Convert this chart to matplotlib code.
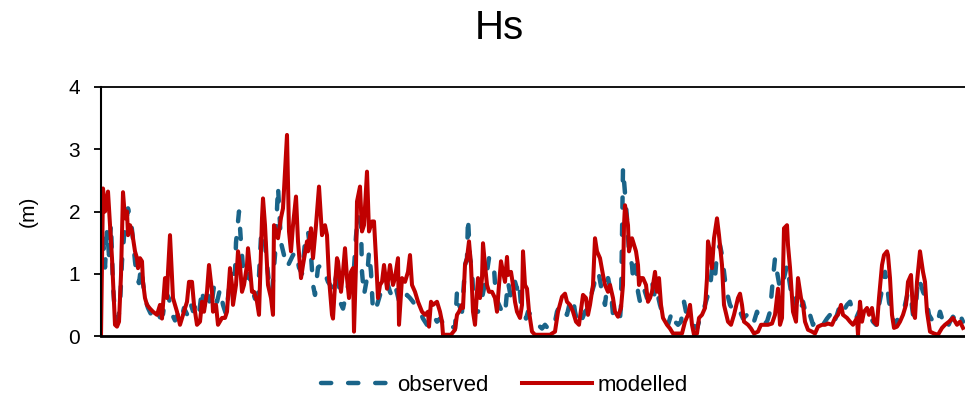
import matplotlib.pyplot as plt

plt.rcParams['font.family'] = ['Liberation Sans', 'DejaVu Sans']

# hourly time step and significant wave height (m)
t_model = [0, 2, 4, 7, 11, 14, 16, 18, 20, 22, 24, 26, 27, 29, 31, 32, 34, 36, 37, 39,
           41, 42, 44, 46, 49, 52, 56, 59, 61, 64, 66, 67, 69, 71, 72, 76, 79, 82, 86, 88,
           91, 93, 96, 99, 101, 103, 106, 108, 111, 112, 115, 117, 121, 124, 126, 129, 131, 132, 135, 137,
           139, 141, 143, 146, 147, 149, 151, 153, 156, 158, 161, 162, 164, 166, 167, 170, 172, 173, 177, 180,
           182, 186, 188, 190, 192, 195, 197, 200, 202, 206, 207, 210, 212, 215, 218, 221, 224, 226, 228, 231,
           232, 234, 236, 237, 240, 242, 244, 246, 248, 250, 252, 253, 255, 256, 259, 261, 263, 266, 268, 271,
           273, 275, 277, 279, 281, 283, 286, 289, 292, 294, 297, 298, 301, 304, 307, 309, 311, 314, 317, 321,
           324, 327, 328, 330, 332, 336, 339, 341, 342, 346, 350, 354, 356, 358, 361, 362, 364, 366, 368, 370,
           372, 374, 376, 377, 379, 381, 382, 384, 386, 388, 391, 394, 396, 398, 400, 402, 404, 406, 407, 410,
           412, 414, 416, 419, 421, 422, 424, 426, 428, 431, 434, 439, 444, 449, 454, 457, 461, 464, 466, 469,
           472, 475, 478, 481, 482, 485, 487, 489, 492, 494, 496, 499, 502, 504, 507, 509, 512, 514, 517, 520,
           522, 523, 524, 527, 528, 531, 532, 535, 537, 538, 540, 542, 545, 547, 549, 551, 554, 556, 558, 560,
           562, 566, 569, 572, 576, 581, 584, 587, 589, 591, 593, 596, 598, 601, 604, 606, 607, 609, 611, 613,
           616, 618, 621, 623, 627, 630, 633, 637, 639, 641, 643, 647, 650, 653, 657, 660, 664, 667, 671, 674,
           677, 679, 681, 683, 686, 687, 689, 692, 695, 697, 700, 702, 704, 707, 711, 714, 717, 721, 724, 727,
           731, 734, 737, 740, 742, 746, 749, 752, 756, 757, 759, 761, 763, 766, 768, 771, 773, 776, 778, 781,
           783, 786, 787, 789, 791, 793, 796, 799, 802, 805, 807, 810, 812, 814, 816, 819, 822, 824, 826, 829,
           833, 837, 841, 844, 848, 852, 856, 859, 862]
hs_model = [0.0, 2.37, 2.0, 2.32, 1.25, 0.18, 0.15, 0.23, 0.98, 2.31, 1.89, 2.0, 1.62, 1.78, 1.68, 1.57, 1.36, 1.25, 1.09, 1.25,
            1.2, 0.87, 0.61, 0.5, 0.44, 0.39, 0.34, 0.5, 0.28, 0.93, 0.61, 1.03, 1.62, 0.93, 0.61, 0.39, 0.18, 0.34, 0.55, 0.87,
            0.87, 0.5, 0.18, 0.23, 0.55, 0.39, 0.71, 1.14, 0.71, 0.39, 0.5, 0.18, 0.29, 0.29, 0.39, 1.09, 0.82, 0.5, 0.82, 1.36,
            1.14, 0.71, 0.82, 1.14, 1.41, 1.09, 0.71, 0.71, 0.55, 0.34, 1.89, 2.21, 1.78, 1.14, 0.82, 0.61, 0.34, 1.78, 1.57, 1.9,
            2.05, 3.23, 1.68, 1.36, 1.78, 2.24, 1.52, 0.93, 1.14, 1.52, 1.36, 1.73, 1.25, 1.78, 2.4, 1.62, 1.78, 1.62, 0.93, 0.34,
            0.28, 0.82, 1.25, 1.2, 0.71, 1.03, 1.41, 0.93, 0.61, 1.03, 1.09, 0.07, 1.14, 2.16, 2.4, 1.68, 1.78, 2.64, 1.68, 1.84,
            1.84, 1.25, 0.61, 0.82, 0.87, 1.14, 0.76, 1.14, 0.82, 0.93, 1.25, 0.18, 0.93, 0.87, 1.03, 1.3, 0.82, 0.71, 0.55, 0.39,
            0.34, 0.39, 0.15, 0.55, 0.5, 0.55, 0.39, 0.23, 0.02, 0.02, 0.02, 0.1, 0.34, 0.39, 0.5, 0.45, 1.14, 1.25, 1.52, 1.14,
            0.39, 0.18, 0.71, 0.93, 0.61, 0.93, 1.49, 1.14, 0.82, 0.71, 0.71, 0.61, 0.39, 0.82, 1.2, 1.03, 0.87, 1.27, 0.98, 1.03,
            0.82, 0.55, 0.39, 0.29, 0.5, 1.36, 0.82, 0.76, 0.39, 0.07, 0.02, 0.02, 0.02, 0.02, 0.07, 0.39, 0.63, 0.68, 0.55, 0.5,
            0.39, 0.23, 0.18, 0.55, 0.66, 0.61, 0.34, 0.5, 0.82, 1.57, 1.36, 1.25, 0.98, 0.82, 0.71, 0.82, 0.61, 0.39, 0.31, 0.45,
            0.82, 1.78, 2.1, 1.78, 1.36, 1.57, 1.52, 1.36, 1.14, 0.82, 0.93, 0.93, 0.82, 0.55, 0.61, 0.71, 1.03, 0.71, 0.93, 0.5,
            0.29, 0.18, 0.12, 0.04, 0.04, 0.04, 0.23, 0.34, 0.5, 0.18, 0.02, 0.04, 0.29, 0.34, 0.45, 0.93, 1.52, 1.36, 1.09, 1.57,
            1.89, 1.62, 1.14, 0.5, 0.23, 0.18, 0.34, 0.61, 0.68, 0.5, 0.23, 0.18, 0.12, 0.04, 0.07, 0.18, 0.18, 0.18, 0.2, 0.34,
            0.76, 0.18, 0.29, 1.73, 1.78, 1.46, 1.1, 0.39, 0.23, 0.93, 0.61, 0.5, 0.23, 0.1, 0.07, 0.04, 0.15, 0.18, 0.18, 0.2,
            0.18, 0.29, 0.34, 0.5, 0.34, 0.29, 0.23, 0.18, 0.29, 0.02, 0.55, 0.23, 0.39, 0.45, 0.34, 0.45, 0.23, 0.18, 0.61, 1.14,
            1.3, 1.36, 1.3, 0.93, 0.34, 0.13, 0.15, 0.23, 0.34, 0.5, 0.87, 0.98, 0.39, 0.29, 0.87, 1.36, 1.03, 0.87, 0.39, 0.07,
            0.04, 0.02, 0.13, 0.18, 0.23, 0.29, 0.18, 0.23, 0.13]

t_obs = [0, 2, 4, 6, 8, 10, 12, 14, 17, 19, 21, 23, 25, 27, 30, 32, 34, 36, 38, 40,
         42, 44, 47, 50, 53, 56, 59, 62, 65, 68, 71, 74, 77, 80, 83, 86, 89, 92, 95, 98,
         101, 104, 107, 110, 113, 116, 119, 122, 125, 128, 131, 134, 135, 138, 140, 142, 145, 148, 151, 154,
         157, 160, 162, 165, 168, 171, 174, 177, 180, 183, 186, 189, 192, 195, 198, 201, 204, 207, 210, 212,
         214, 217, 220, 223, 227, 230, 232, 235, 237, 239, 242, 245, 248, 250, 253, 255, 257, 260, 261, 263,
         266, 268, 270, 272, 275, 279, 282, 286, 289, 292, 295, 299, 302, 306, 309, 312, 316, 319, 322, 326,
         329, 332, 336, 339, 343, 346, 349, 354, 356, 358, 361, 363, 364, 366, 367, 369, 371, 373, 377, 381,
         385, 388, 390, 393, 395, 398, 401, 404, 406, 407, 410, 412, 414, 416, 418, 420, 422, 425, 427, 430,
         434, 437, 441, 444, 447, 450, 454, 456, 459, 462, 466, 469, 472, 474, 477, 480, 484, 487, 491, 493,
         495, 498, 501, 504, 507, 510, 512, 515, 519, 520, 522, 524, 526, 528, 531, 532, 535, 537, 539, 541,
         543, 546, 549, 551, 554, 556, 559, 561, 564, 567, 571, 574, 577, 580, 583, 585, 589, 592, 596, 599,
         602, 606, 609, 611, 614, 616, 619, 621, 623, 625, 629, 633, 636, 639, 642, 646, 649, 652, 656, 659,
         662, 666, 669, 672, 674, 676, 679, 683, 686, 689, 692, 695, 699, 702, 706, 709, 712, 716, 719, 722,
         726, 729, 732, 736, 739, 742, 746, 749, 752, 755, 758, 762, 765, 768, 772, 775, 778, 782, 784, 786,
         788, 791, 794, 797, 801, 804, 807, 810, 812, 815, 817, 820, 822, 825, 828, 832, 836, 839, 843, 846,
         849, 852, 856, 859, 862]
hs_obs = [1.2, 1.6, 1.1, 1.7, 1.3, 1.8, 0.8, 0.35, 0.25, 0.5, 1.2, 1.6, 1.8, 2.05, 1.85, 1.55, 1.2, 0.95, 0.85, 1.1,
          0.85, 0.6, 0.45, 0.35, 0.3, 0.4, 0.3, 0.35, 0.7, 0.6, 0.35, 0.25, 0.35, 0.25, 0.45, 0.35, 0.55, 0.4, 0.5, 0.35,
          0.75, 0.4, 0.65, 0.45, 0.8, 0.55, 0.75, 0.5, 0.35, 0.75, 1.0, 1.0, 1.5, 2.0, 1.5, 1.1, 0.9, 1.0, 0.75, 0.6,
          0.65, 1.6, 1.9, 1.3, 0.85, 0.7, 1.3, 2.4, 1.5, 1.3, 1.1, 1.2, 1.3, 1.35, 1.1, 1.0, 1.5, 1.68, 1.3, 0.82,
          0.66, 1.1, 1.14, 1.05, 0.87, 0.8, 0.71, 0.95, 1.14, 0.55, 0.44, 0.66, 0.87, 0.82, 1.09, 1.6, 1.94, 1.78, 1.03, 0.66,
          0.93, 1.35, 1.03, 0.39, 0.44, 0.66, 0.82, 0.87, 0.71, 0.61, 0.76, 0.5, 0.55, 0.66, 0.61, 0.55, 0.44, 0.39, 0.28, 0.18,
          0.28, 0.34, 0.23, 0.28, 0.18, 0.12, 0.18, 0.12, 0.72, 0.5, 0.39, 0.87, 1.14, 1.25, 1.9, 1.25, 1.09, 0.39, 0.39, 0.61,
          0.93, 1.25, 1.25, 1.09, 0.61, 0.5, 0.39, 0.34, 0.71, 0.87, 0.61, 0.82, 0.87, 0.76, 0.87, 0.5, 0.39, 0.28, 0.39, 0.34,
          0.23, 0.18, 0.12, 0.18, 0.12, 0.1, 0.23, 0.39, 0.5, 0.39, 0.34, 0.55, 0.61, 0.39, 0.18, 0.23, 0.39, 0.44, 0.71, 0.82,
          1.03, 0.98, 0.71, 0.5, 0.93, 0.71, 0.34, 0.23, 0.28, 0.5, 2.7, 2.3, 1.89, 1.35, 1.14, 0.93, 1.14, 0.71, 0.55, 0.66,
          0.76, 0.61, 0.71, 0.87, 0.61, 0.71, 0.5, 0.39, 0.34, 0.18, 0.39, 0.23, 0.18, 0.23, 0.55, 0.39, 0.23, 0.18, 0.12, 0.28,
          0.39, 0.61, 0.76, 1.09, 0.93, 1.35, 1.46, 1.3, 1.03, 0.76, 0.5, 0.39, 0.44, 0.39, 0.28, 0.34, 0.23, 0.18, 0.39, 0.28,
          0.18, 0.23, 0.39, 0.93, 1.25, 1.03, 0.76, 0.93, 1.14, 0.82, 0.5, 0.61, 0.39, 0.55, 0.28, 0.34, 0.18, 0.28, 0.23, 0.18,
          0.28, 0.34, 0.18, 0.34, 0.5, 0.39, 0.5, 0.55, 0.39, 0.28, 0.39, 0.34, 0.28, 0.34, 0.23, 0.18, 0.5, 0.82, 1.03, 0.82,
          0.55, 0.34, 0.18, 0.28, 0.34, 0.5, 0.71, 0.61, 0.34, 0.5, 0.93, 0.82, 0.71, 0.61, 0.34, 0.23, 0.18, 0.39, 0.18, 0.12,
          0.23, 0.31, 0.23, 0.34, 0.23]

y_ticks = [0, 1, 2, 3, 4]

fig = plt.figure(figsize=(9.65, 3.99), dpi=100)
ax = fig.add_axes([101 / 965, 63 / 399, 864 / 965, 249 / 399])

ax.plot(t_obs, hs_obs, color='#1a6489', lw=3.2, linestyle=(0, (2.3, 3.8)),
        dash_capstyle='round', solid_joinstyle='round', label='observed')
ax.plot(t_model, hs_model, color='#c00000', lw=2.9, solid_joinstyle='round',
        label='modelled')

ax.set_xlim(0, 864)
ax.set_ylim(0, 4)
ax.set_yticks(y_ticks)
ax.set_xticks([])
ax.tick_params(axis='y', length=5, width=1.3, labelsize=15, pad=10)
ax.set_ylabel('(m)', fontsize=15, labelpad=22)

for side in ['left', 'bottom', 'top']:
    ax.spines[side].set_color('black')
ax.spines['left'].set_linewidth(1.5)
ax.spines['bottom'].set_linewidth(2.0)
ax.spines['top'].set_linewidth(1.3)
ax.spines['right'].set_visible(False)

fig.text(0.518, 0.93, 'Hs', ha='center', va='center', fontsize=29)

fig.legend(loc='center', bbox_to_anchor=(0.523, 0.035), ncol=2, frameon=False,
           fontsize=16, handlelength=3.15, columnspacing=1.5, handletextpad=0.27)

plt.savefig('out.png', dpi=100)
